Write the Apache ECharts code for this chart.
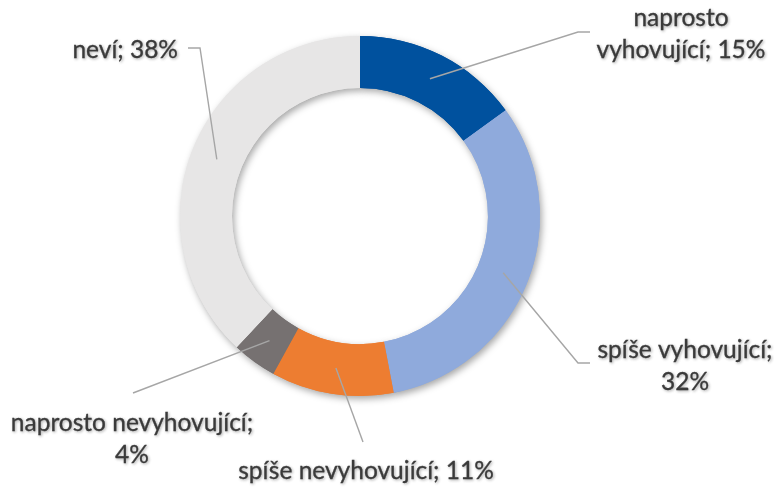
<!DOCTYPE html>
<html>
<head>
<meta charset="utf-8">
<script src="https://cdn.jsdelivr.net/npm/echarts@6/dist/echarts.min.js"></script>
<style>
  html, body { margin: 0; padding: 0; background: #fff; }
  #chart { width: 774px; height: 488px; }
</style>
</head>
<body>
<div id="chart"></div>
<script>
const categories = ['naprosto vyhovující', 'spíše vyhovující', 'spíše nevyhovující', 'naprosto nevyhovující', 'neví']
const shares = [15, 32, 11, 4, 38]

const colors = ['#00519E', '#8FAADC', '#ED7D31', '#767171', '#E7E6E6']

// where each callout sits and how its text wraps
const callouts = [
  { x: 681, y: 34, align: 'center', wrap: 'name', line: [[578, 32], [590, 32]] },
  { x: 685, y: 366, align: 'center', wrap: 'value', line: [[578, 363], [590, 363]] },
  { x: 366, y: 471, align: 'center', wrap: null, line: [[363, 442], [363, 442]] },
  { x: 132, y: 439, align: 'center', wrap: 'value', line: [[133, 393], [133, 393]] },
  { x: 178, y: 50, align: 'right', wrap: null, line: [[200, 48], [188, 48]] }
]

const pieData = categories.map((name, i) => ({ name: name, value: shares[i] }))

const center = [360, 216]

function labelText(p) {
  const c = callouts[p.dataIndex]
  if (c.wrap === 'name') {
    const k = p.name.indexOf(' ')
    return p.name.slice(0, k) + '\n' + p.name.slice(k + 1) + '; ' + p.value + '%'
  }
  if (c.wrap === 'value') return p.name + ';\n' + p.value + '%'
  return p.name + '; ' + p.value + '%'
}

const chart = echarts.init(document.getElementById('chart'))

chart.setOption({
  backgroundColor: '#fff',
  color: colors,
  animation: false,
  series: [
    {
      // shadow layer under the ring
      type: 'pie',
      silent: true,
      center: center,
      radius: [128, 180],
      label: { show: false },
      labelLine: { show: false },
      itemStyle: {
        shadowBlur: 7,
        shadowOffsetX: 2,
        shadowOffsetY: 3,
        shadowColor: 'rgba(0, 0, 0, 0.35)'
      },
      data: pieData,
      z: 1
    },
    {
      type: 'pie',
      silent: true,
      center: center,
      radius: [128, 180],
      label: { show: false },
      labelLine: { show: false },
      itemStyle: { borderWidth: 0 },
      data: pieData,
      z: 2
    },
    {
      // invisible pie just for the callouts, leader lines start mid-ring
      type: 'pie',
      silent: true,
      center: center,
      radius: [0, 154],
      itemStyle: { color: 'rgba(0,0,0,0)' },
      label: {
        show: true,
        position: 'outside',
        formatter: labelText,
        overflow: 'none',
        fontFamily: 'Lato',
        fontSize: 24.5,
        lineHeight: 32,
        color: '#3A3A3A',
        textBorderColor: '#3A3A3A',
        textBorderWidth: 0.3,
        textShadowColor: 'rgba(0, 0, 0, 0.3)',
        textShadowBlur: 3,
        textShadowOffsetX: 1,
        textShadowOffsetY: 1
      },
      labelLine: {
        show: true,
        lineStyle: { color: '#A6A6A6', width: 1.4 }
      },
      labelLayout: function (params) {
        const c = callouts[params.dataIndex]
        const start = params.labelLinePoints ? params.labelLinePoints[0] : c.line[0]
        return {
          x: c.x,
          y: c.y,
          align: c.align,
          verticalAlign: 'middle',
          labelLinePoints: [start, c.line[0], c.line[1]]
        }
      },
      data: pieData,
      z: 3
    }
  ]
})
</script>
</body>
</html>
